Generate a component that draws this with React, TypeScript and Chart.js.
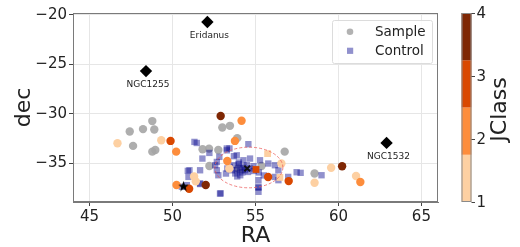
import React, { useEffect, useRef } from 'react';
import { Chart, registerables } from 'chart.js';

Chart.register(...registerables);

// ---------- data ----------
const xTicks = [45, 50, 55, 60, 65];
const yTicks = [-35, -30, -25, -20];
const classTicks = [1, 2, 3, 4];
const classBins = [1, 1.75, 2.5, 3.25, 4];
const classColors = ['#fdd0a2', '#fd8d3c', '#d94801', '#7f2704'];

// Sample (no class) - gray circles
const sampleRA = [47.42, 48.22, 48.78, 48.9, 47.62, 48.78, 48.96, 53.0, 53.46, 53.9, 51.81, 52.2, 52.76, 52.22, 56.76, 58.56, 54.22, 55.36, 53.96];
const sampleDec = [-31.77, -31.53, -30.72, -31.57, -33.22, -33.8, -33.63, -31.37, -31.2, -32.44, -33.56, -33.5, -33.63, -35.25, -33.8, -36.0, -35.58, -35.25, -35.5];

// Sample with JClass - coloured circles
const jRA = [46.68, 49.32, 51.3, 51.4, 53.42, 56.56, 58.56, 59.56, 61.06, 50.22, 50.24, 54.16, 53.76, 53.3, 61.32, 49.88, 51.0, 55.76, 57.0, 52.9, 52.0, 60.22];
const jDec = [-32.95, -32.65, -36.3, -36.8, -35.5, -35.0, -36.94, -35.42, -36.26, -33.8, -37.17, -30.69, -32.72, -34.74, -36.87, -32.72, -37.55, -36.36, -36.77, -30.2, -37.17, -35.28];
const jClass = [1, 1, 1, 1, 1, 1, 1, 1, 1, 2, 2, 2, 2, 2, 2, 3, 3, 3, 3, 4, 4, 4];

// Control with JClass - coloured squares
const cjRA = [55.73, 56.47, 55.03];
const cjDec = [-34.0, -36.4, -35.6];
const cjClass = [1, 1, 3];

// Control - blue squares
const ctrlRA = [51.46, 52.22, 53.43, 54.57, 53.7, 52.82, 51.02, 51.66, 50.96, 50.86, 51.66, 52.86, 54.27, 54.67, 55.27, 55.77, 56.17, 54.08, 55.18, 55.18, 52.67, 52.57, 53.22,
  53.68, 53.98, 54.28, 54.48, 54.08, 53.88, 54.37, 54.67, 54.88, 53.58, 53.78, 54.2, 53.45, 54.55, 53.3, 54.9,
  53.27, 53.87, 55.2, 56.38, 56.17, 57.48, 56.38, 55.18, 55.18, 56.97, 57.72, 58.98,
  51.32, 51.8, 53.27, 52.67, 50.92, 50.56, 52.9, 52.76, 51.66, 54.0, 53.9, 55.5];
const ctrlDec = [-32.93, -33.93, -33.48, -33.05, -34.26, -34.33, -35.68, -35.68, -36.35, -37.18, -37.0, -38.03, -34.67, -34.5, -34.67, -35.0, -35.17, -36.18, -36.68, -37.35, -35.68, -35.17, -36.01,
  -35.17, -35.07, -35.34, -35.17, -35.5, -35.68, -35.68, -35.5, -35.27, -35.68, -36.0, -35.9, -35.35, -35.85, -35.5, -35.75,
  -33.48, -34.17, -35.9, -35.68, -36.35, -35.88, -36.68, -37.45, -37.85, -36.35, -35.94, -36.18,
  -32.82, -34.5, -33.67, -34.84, -35.74, -37.34, -38.01, -36.18, -37.07, -34.9, -36.3, -36.2];

// Named objects
const namedLabels = ['Eridanus', 'NGC1255', 'NGC1532'];
const namedRA = [52.1, 48.4, 62.9];
const namedDec = [-20.73, -25.68, -32.92];

// special markers
const starRA = [50.66];
const starDec = [-37.27];
const crossRA = [54.5];
const crossDec = [-35.5];

// dashed circle (centre + radius, degrees)
const circleRA = 54.6;
const circleDec = -35.4;
const circleRadius = 2.05;

// ---------- helpers ----------
const FONT = '"DejaVu Sans", sans-serif';
const classColor = (v: number) => {
  for (let i = 0; i < classColors.length; i++) {
    if (v >= classBins[i] && v <= classBins[i + 1]) return classColors[i];
  }
  return classColors[classColors.length - 1];
};
const pts = (xs: number[], ys: number[]) => xs.map((x, i) => ({ x, y: ys[i] }));
const fmt = (v: number) => (v < 0 ? '\u2212' + Math.abs(v) : String(v));

function makeStar(size: number) {
  const c = document.createElement('canvas');
  c.width = size;
  c.height = size;
  const g = c.getContext('2d')!;
  const cx = size / 2, cy = size / 2 + 0.5;
  const ro = size / 2, ri = ro * 0.42;
  g.beginPath();
  for (let k = 0; k < 10; k++) {
    const r = k % 2 === 0 ? ro : ri;
    const a = -Math.PI / 2 + (k * Math.PI) / 5;
    const px = cx + r * Math.cos(a), py = cy + r * Math.sin(a);
    if (k === 0) g.moveTo(px, py); else g.lineTo(px, py);
  }
  g.closePath();
  g.fillStyle = '#000';
  g.fill();
  return c;
}

const extrasPlugin = {
  id: 'extras',
  afterDatasetsDraw(chart: any) {
    const { ctx, chartArea, scales } = chart;
    const xs = scales.x, ys = scales.y;
    // dashed circle
    const cx = xs.getPixelForValue(circleRA);
    const cy = ys.getPixelForValue(circleDec);
    const rx = Math.abs(xs.getPixelForValue(circleRA + circleRadius) - cx);
    const ry = Math.abs(ys.getPixelForValue(circleDec + circleRadius) - cy);
    ctx.save();
    ctx.beginPath();
    ctx.setLineDash([3, 2]);
    ctx.strokeStyle = 'rgba(235,90,90,0.75)';
    ctx.lineWidth = 1;
    ctx.ellipse(cx, cy, rx, ry, 0, 0, Math.PI * 2);
    ctx.stroke();
    ctx.restore();

    // annotation labels
    ctx.save();
    ctx.font = `9px ${FONT}`;
    ctx.fillStyle = '#222';
    ctx.textAlign = 'center';
    ctx.textBaseline = 'middle';
    namedLabels.forEach((t, i) => {
      const px = xs.getPixelForValue(namedRA[i]);
      const py = ys.getPixelForValue(namedDec[i]);
      ctx.fillText(t, px + 2, py + 13.5);
    });
    ctx.restore();

    // frame
    ctx.save();
    ctx.strokeStyle = '#7a7a7a';
    ctx.lineWidth = 1;
    ctx.strokeRect(chartArea.left + 0.5, chartArea.top + 0.5, chartArea.right - chartArea.left - 1, chartArea.bottom - chartArea.top - 1);
    ctx.restore();

    // legend
    ctx.save();
    const lx = 332, ly = 20, lw = 100, lh = 43;
    ctx.fillStyle = 'rgba(255,255,255,0.85)';
    ctx.strokeStyle = '#dcdcdc';
    ctx.lineWidth = 1;
    ctx.beginPath();
    ctx.roundRect(lx + 0.5, ly + 0.5, lw, lh, 2);
    ctx.fill();
    ctx.stroke();
    ctx.fillStyle = 'rgba(170,170,170,0.9)';
    ctx.beginPath();
    ctx.arc(350, 31.7, 3.3, 0, Math.PI * 2);
    ctx.fill();
    ctx.fillStyle = 'rgba(0,0,139,0.43)';
    ctx.fillRect(347, 47.7, 6.2, 6.2);
    ctx.font = `13.5px ${FONT}`;
    ctx.fillStyle = '#222';
    ctx.textAlign = 'left';
    ctx.textBaseline = 'middle';
    ctx.fillText('Sample', 375, 32);
    ctx.fillText('Control', 375, 51);
    ctx.restore();

    // colour bar
    const cb = scales.cb;
    const bl = chartArea.right + 23.5, bw = 10;
    ctx.save();
    for (let i = 0; i < classColors.length; i++) {
      const y0 = cb.getPixelForValue(classBins[i]);
      const y1 = cb.getPixelForValue(classBins[i + 1]);
      ctx.fillStyle = classColors[i];
      ctx.fillRect(bl, y1, bw, y0 - y1);
    }
    const top = cb.getPixelForValue(4), bot = cb.getPixelForValue(1);
    ctx.strokeStyle = '#8a8a8a';
    ctx.lineWidth = 1;
    ctx.strokeRect(bl + 0.5, top + 0.5, bw - 1, bot - top - 1);
    ctx.font = `15px ${FONT}`;
    ctx.fillStyle = '#222';
    ctx.textAlign = 'left';
    ctx.textBaseline = 'middle';
    classTicks.forEach((v) => {
      const py = cb.getPixelForValue(v);
      ctx.beginPath();
      ctx.moveTo(bl + bw, py + 0.5);
      ctx.lineTo(bl + bw + 3.5, py + 0.5);
      ctx.strokeStyle = '#444';
      ctx.stroke();
      ctx.fillText(String(v), bl + bw + 5, py + 1);
    });
    ctx.translate(500, (top + bot) / 2 + 2);
    ctx.rotate(-Math.PI / 2);
    ctx.textAlign = 'center';
    ctx.font = `22px ${FONT}`;
    ctx.fillText('JClass', 0, 0);
    ctx.restore();
  },
};

export default function App() {
  const ref = useRef<HTMLCanvasElement>(null);
  useEffect(() => {
    if (!ref.current) return;
    const star = makeStar(11);
    const chart = new Chart(ref.current, {
      type: 'scatter',
      data: {
        datasets: [
          {
            label: 'named',
            data: pts(namedRA, namedDec),
            pointStyle: 'rectRot',
            pointRadius: 6.2,
            backgroundColor: '#000',
            borderColor: '#000',
            borderWidth: 0,
          },
          {
            label: 'star',
            data: pts(starRA, starDec),
            pointStyle: star as any,
            pointRadius: 5,
            backgroundColor: '#000',
          },
          {
            label: 'centre',
            data: pts(crossRA, crossDec),
            pointStyle: 'crossRot',
            pointRadius: 4,
            borderColor: '#111',
            borderWidth: 2,
          },
          {
            label: 'Sample JClass',
            data: pts(jRA, jDec),
            pointStyle: 'circle',
            pointRadius: 4.2,
            backgroundColor: jClass.map((v) => classColor(v)),
            borderWidth: 0,
          },
          {
            label: 'Control JClass',
            data: pts(cjRA, cjDec),
            pointStyle: 'rect',
            pointRadius: 4.8,
            backgroundColor: cjClass.map((v) => classColor(v)),
            borderWidth: 0,
          },
          {
            label: 'Control',
            data: pts(ctrlRA, ctrlDec),
            pointStyle: 'rect',
            pointRadius: 4.5,
            backgroundColor: 'rgba(0,0,139,0.43)',
            borderWidth: 0,
          },
          {
            label: 'Sample',
            data: pts(sampleRA, sampleDec),
            pointStyle: 'circle',
            pointRadius: 4.2,
            backgroundColor: 'rgba(165,165,165,0.9)',
            borderWidth: 0,
          },
        ],
      },
      options: {
        responsive: false,
        animation: false,
        devicePixelRatio: 1,
        layout: { padding: { top: 13, right: 82, left: 0, bottom: 0 } },
        plugins: { legend: { display: false }, tooltip: { enabled: false } },
        scales: {
          x: {
            type: 'linear',
            min: 44,
            max: 66,
            afterBuildTicks: (s: any) => { s.ticks = xTicks.map((v) => ({ value: v })); },
            afterFit: (s: any) => { s.height = 45; },
            grid: { color: '#e6e6e6', tickColor: '#444', tickLength: 4, drawTicks: true },
            border: { color: '#7a7a7a' },
            ticks: { font: { family: FONT, size: 15 }, color: '#222', padding: 2, maxRotation: 0, callback: (v: any) => fmt(Number(v)) },
            title: { display: true, text: 'RA', font: { family: FONT, size: 22, lineHeight: 1 }, color: '#222', padding: { top: 0, bottom: 0 } },
          },
          y: {
            type: 'linear',
            min: -38.88,
            max: -19.82,
            afterBuildTicks: (s: any) => { s.ticks = yTicks.map((v) => ({ value: v })); },
            afterFit: (s: any) => { s.width = 73; },
            grid: { color: '#e6e6e6', tickColor: '#444', tickLength: 4, drawTicks: true },
            border: { color: '#7a7a7a' },
            ticks: { font: { family: FONT, size: 15 }, color: '#222', padding: 2, callback: (v: any) => fmt(Number(v)) },
            title: { display: true, text: 'dec', font: { family: FONT, size: 22, lineHeight: 1 }, color: '#222', padding: { top: 13, bottom: 0 } },
          },
          cb: {
            type: 'linear',
            position: 'right',
            display: false,
            min: 1,
            max: 4,
          },
        },
      },
      plugins: [extrasPlugin],
    });
    return () => chart.destroy();
  }, []);
  return (
    <div style={{ position: 'absolute', left: 0, top: 0, width: 520, height: 247, background: '#fff' }}>
      <canvas ref={ref} width={520} height={247} />
    </div>
  );
}
